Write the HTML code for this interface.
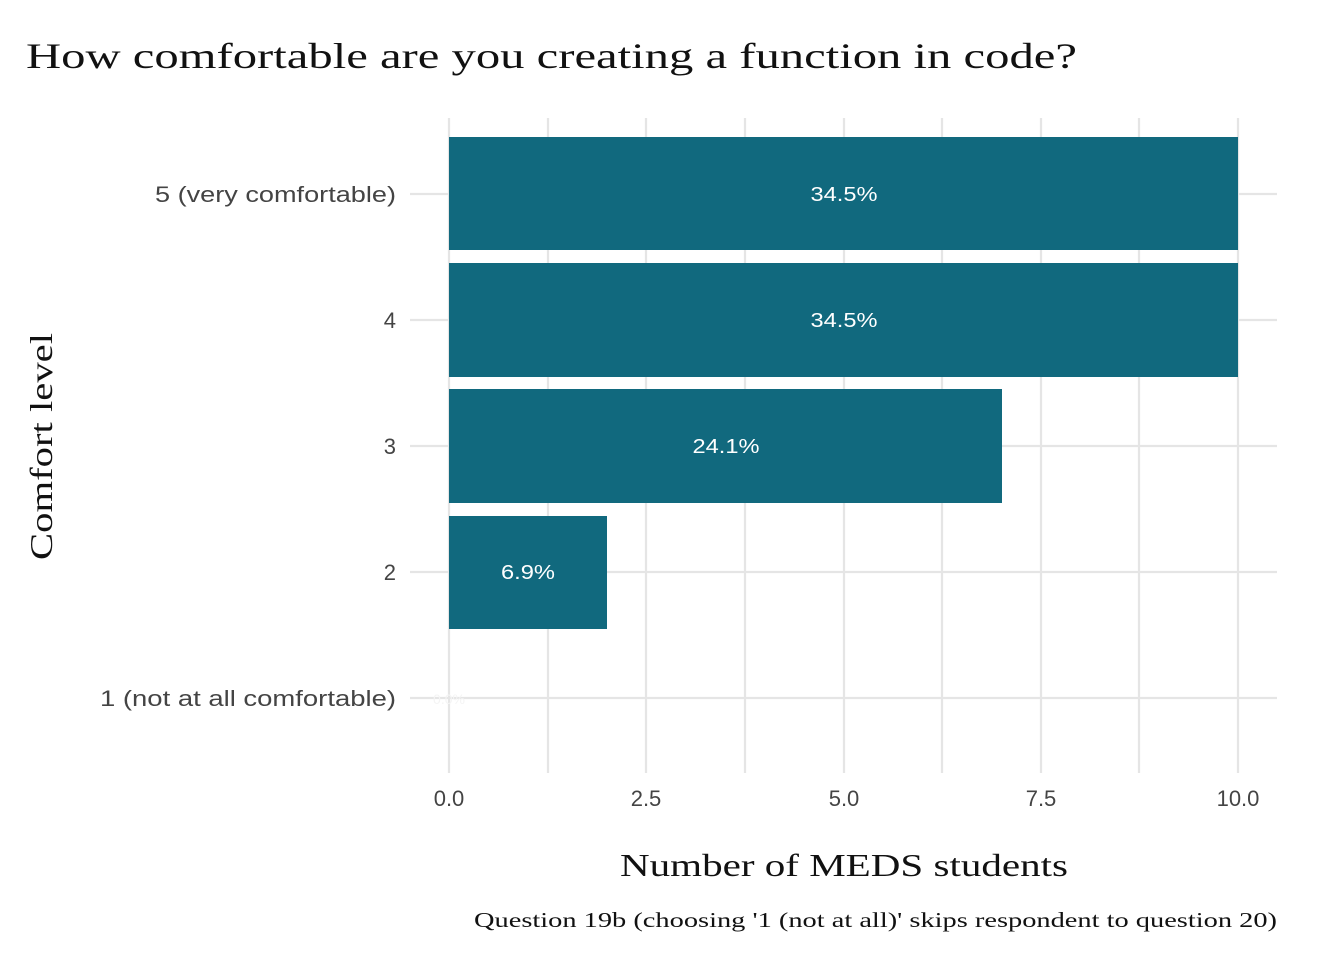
<!DOCTYPE html>
<html><head><meta charset="utf-8"><style>body{margin:0;background:#fff}svg{display:block}</style></head>
<body>
<svg width="1344" height="960" xmlns="http://www.w3.org/2000/svg">
<rect width="1344" height="960" fill="#fff"/>
<g stroke="#e5e5e5" stroke-width="2.2">
<line x1="449" y1="118" x2="449" y2="773"/><line x1="548" y1="118" x2="548" y2="773"/>
<line x1="646" y1="118" x2="646" y2="773"/><line x1="745" y1="118" x2="745" y2="773"/>
<line x1="844" y1="118" x2="844" y2="773"/><line x1="942" y1="118" x2="942" y2="773"/>
<line x1="1041" y1="118" x2="1041" y2="773"/><line x1="1139" y1="118" x2="1139" y2="773"/>
<line x1="1238" y1="118" x2="1238" y2="773"/>
<line x1="410" y1="194" x2="1277" y2="194"/><line x1="410" y1="320" x2="1277" y2="320"/>
<line x1="410" y1="446" x2="1277" y2="446"/><line x1="410" y1="572" x2="1277" y2="572"/>
<line x1="410" y1="698" x2="1277" y2="698"/>
</g>
<g fill="#11697e">
<rect x="449" y="137" width="789" height="113"/>
<rect x="449" y="263" width="789" height="114"/>
<rect x="449" y="389" width="553" height="114"/>
<rect x="449" y="516" width="158" height="113"/>
</g>
<g font-family="Liberation Sans, sans-serif" font-size="20" fill="#fff" text-anchor="middle">
<text x="844" y="201" textLength="67" lengthAdjust="spacingAndGlyphs">34.5%</text>
<text x="844" y="327" textLength="67" lengthAdjust="spacingAndGlyphs">34.5%</text>
<text x="726" y="453" textLength="67" lengthAdjust="spacingAndGlyphs">24.1%</text>
<text x="528" y="579" textLength="54" lengthAdjust="spacingAndGlyphs">6.9%</text>
<text x="449" y="704" font-size="14" fill="#f4f4f4">0.0%</text>
</g>
<g font-family="Liberation Sans, sans-serif" font-size="22" fill="#444" text-anchor="end">
<text x="396" y="202" textLength="241" lengthAdjust="spacingAndGlyphs">5 (very comfortable)</text><text x="396" y="328">4</text>
<text x="396" y="454">3</text><text x="396" y="580">2</text>
<text x="396" y="706" textLength="296" lengthAdjust="spacingAndGlyphs">1 (not at all comfortable)</text>
</g>
<g font-family="Liberation Sans, sans-serif" font-size="22" fill="#444" text-anchor="middle">
<text x="449" y="806">0.0</text><text x="646" y="806">2.5</text><text x="844" y="806">5.0</text>
<text x="1041" y="806">7.5</text><text x="1238" y="806">10.0</text>
</g>
<g font-family="Liberation Serif, serif" fill="#111">
<text x="26" y="68" font-size="36" textLength="1051" lengthAdjust="spacingAndGlyphs">How comfortable are you creating a function in code?</text>
<text x="620" y="876" font-size="32" textLength="448" lengthAdjust="spacingAndGlyphs">Number of MEDS students</text>
<text transform="translate(52,560) rotate(-90)" font-size="32" textLength="227" lengthAdjust="spacingAndGlyphs">Comfort level</text>
<text x="474" y="927" font-size="21" textLength="803" lengthAdjust="spacingAndGlyphs">Question 19b (choosing '1 (not at all)' skips respondent to question 20)</text>
</g>
</svg>
</body></html>
